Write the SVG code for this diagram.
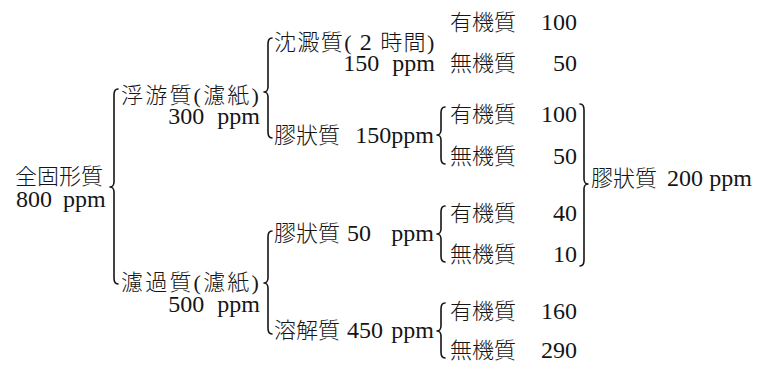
<svg xmlns="http://www.w3.org/2000/svg" width="761" height="367" viewBox="0 0 761 367">
<style>
  .t { font-family: "Liberation Serif", "Noto Sans CJK JP", serif; font-size: 22px; font-weight: 300; fill: #151515; }
  .n { font-size: 24px; }
  .e { text-anchor: end; }
  .br { fill: none; stroke: #151515; stroke-width: 1.6; stroke-linecap: round; stroke-linejoin: round; }
</style>
<rect width="761" height="367" fill="#ffffff"/>

<g id="connectors">
  <!-- 全固形質 brace -->
  <path class="br" d="M118 89 C115 89 114 91 114 95 L114 182 C114 185 112 187 110 187 C112 187 114 189 114 192 L114 278 C114 282 115 284 118 284"/>
  <!-- 浮游質 brace -->
  <path class="br" d="M272 38 C269 38 268 40 268 44 L268 87 C268 90 266 92 264 92 C266 92 268 94 268 97 L268 132 C268 136 269 138 272 138"/>
  <!-- 濾過質 brace -->
  <path class="br" d="M272 231 C269 231 268 233 268 237 L268 278 C268 281 266 283 264 283 C266 283 268 285 268 288 L268 328 C268 332 269 334 272 334"/>
  <!-- 膠狀質 150ppm brace -->
  <path class="br" d="M445 107 C442 107 441 109 441 113 L441 130 C441 133 439 135 437 135 C439 135 441 137 441 140 L441 158 C441 162 442 164 445 164"/>
  <!-- 膠狀質 50 ppm brace -->
  <path class="br" d="M445 206 C442 206 441 208 441 212 L441 229 C441 232 439 234 437 234 C439 234 441 236 441 239 L441 256 C441 260 442 262 445 262"/>
  <!-- 溶解質 450ppm brace -->
  <path class="br" d="M445 303 C442 303 441 305 441 309 L441 326 C441 329 439 331 437 331 C439 331 441 333 441 336 L441 352 C441 356 442 358 445 358"/>
  <!-- 膠狀質 200ppm brace (right) -->
  <path class="br" d="M580 104 C583 104 584 106 584 110 L584 179 C584 182 586 184 588 184 C586 184 584 186 584 189 L584 260 C584 264 583 266 580 266"/>
</g>

<g id="n-total">
  <text class="t"><tspan x="15" y="184">全固形質</tspan><tspan class="n" x="16" y="207" style="word-spacing:5px">800 ppm</tspan></text>
</g>

<g id="n-suspended">
  <text class="t"><tspan x="121" y="103" style="letter-spacing:2.2px">浮游質(濾紙)</tspan><tspan class="n e" x="260" y="124" style="word-spacing:7px">300 ppm</tspan></text>
</g>

<g id="n-filtrate">
  <text class="t"><tspan x="121" y="290" style="letter-spacing:2.2px">濾過質(濾紙)</tspan><tspan class="n e" x="260" y="312" style="word-spacing:7px">500 ppm</tspan></text>
</g>

<g id="n-settleable">
  <text class="t"><tspan x="274" y="50" style="letter-spacing:1.4px">沈澱質( <tspan class="n">2</tspan> 時間)</tspan><tspan class="n e" x="435" y="71" style="word-spacing:7px">150 ppm</tspan></text>
</g>

<g id="n-colloid1">
  <text class="t" y="143"><tspan x="274">膠狀質 </tspan><tspan class="n e" x="434">150ppm</tspan></text>
</g>

<g id="n-colloid2">
  <text class="t" y="241"><tspan x="274">膠狀質 </tspan><tspan class="n" x="347">50 </tspan><tspan class="n e" x="434">ppm</tspan></text>
</g>

<g id="n-dissolved">
  <text class="t" y="338"><tspan x="274">溶解質 </tspan><tspan class="n" x="347">450</tspan><tspan class="n e" x="434">ppm</tspan></text>
</g>

<g id="n-org1">
  <text class="t" y="30"><tspan x="450">有機質 </tspan><tspan class="n e" x="577">100</tspan></text>
</g>
<g id="n-inorg1">
  <text class="t" y="71"><tspan x="450">無機質 </tspan><tspan class="n e" x="577">50</tspan></text>
</g>
<g id="n-org2">
  <text class="t" y="122"><tspan x="450">有機質 </tspan><tspan class="n e" x="577">100</tspan></text>
</g>
<g id="n-inorg2">
  <text class="t" y="164"><tspan x="450">無機質 </tspan><tspan class="n e" x="577">50</tspan></text>
</g>
<g id="n-org3">
  <text class="t" y="221"><tspan x="450">有機質 </tspan><tspan class="n e" x="577">40</tspan></text>
</g>
<g id="n-inorg3">
  <text class="t" y="262"><tspan x="450">無機質 </tspan><tspan class="n e" x="577">10</tspan></text>
</g>
<g id="n-org4">
  <text class="t" y="319"><tspan x="450">有機質 </tspan><tspan class="n e" x="577">160</tspan></text>
</g>
<g id="n-inorg4">
  <text class="t" y="358"><tspan x="450">無機質 </tspan><tspan class="n e" x="577">290</tspan></text>
</g>

<g id="n-colloid-total">
  <text class="t" y="186"><tspan x="591">膠狀質 </tspan><tspan class="n" x="667">200</tspan><tspan class="n e" x="752">ppm</tspan></text>
</g>
</svg>
